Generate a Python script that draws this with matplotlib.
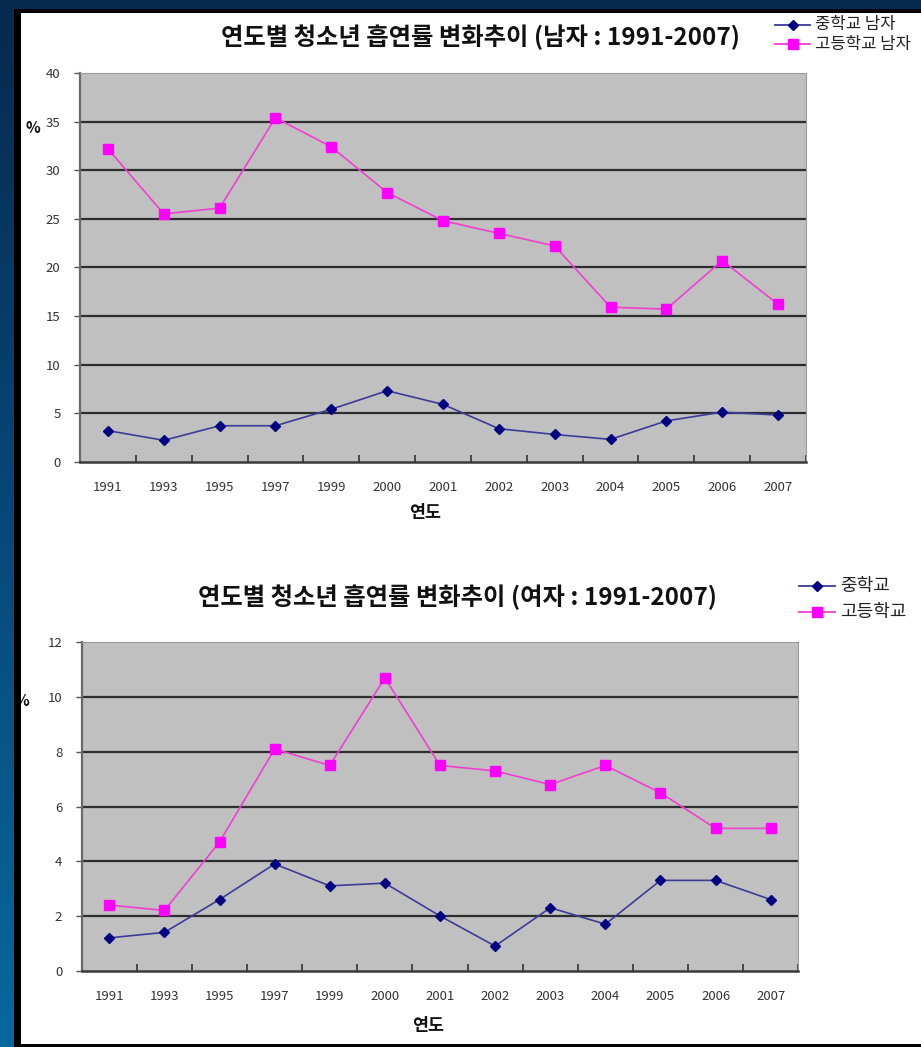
import numpy as np
import matplotlib
matplotlib.use("Agg")
import matplotlib.pyplot as plt
from matplotlib.lines import Line2D
from matplotlib.patches import Rectangle

plt.rcParams['font.family'] = ['Noto Sans CJK KR', 'DejaVu Sans']

# ---- data -------------------------------------------------------------
years = ['1991', '1993', '1995', '1997', '1999', '2000', '2001',
         '2002', '2003', '2004', '2005', '2006', '2007']

male_middle = [3.2, 2.2, 3.7, 3.7, 5.4, 7.3, 5.9, 3.4, 2.8, 2.3, 4.2, 5.1, 4.8]
male_high = [32.2, 25.5, 26.1, 35.4, 32.4, 27.7, 24.8, 23.5, 22.2, 15.9, 15.7, 20.7, 16.2]

female_middle = [1.2, 1.4, 2.6, 3.9, 3.1, 3.2, 2.0, 0.9, 2.3, 1.7, 3.3, 3.3, 2.6]
female_high = [2.4, 2.2, 4.7, 8.1, 7.5, 10.7, 7.5, 7.3, 6.8, 7.5, 6.5, 5.2, 5.2]

male_ticks = [0, 5, 10, 15, 20, 25, 30, 35, 40]
female_ticks = [0, 2, 4, 6, 8, 10, 12]

male_title = '연도별 청소년 흡연률 변화추이 (남자 : 1991-2007)'
female_title = '연도별 청소년 흡연률 변화추이 (여자 : 1991-2007)'
male_labels = ['중학교 남자', '고등학교 남자']
female_labels = ['중학교', '고등학교']

# ---- figure -------------------------------------------------------------
W, H = 921, 1047
fig = plt.figure(figsize=(W / 100, H / 100), dpi=100, facecolor='white')


def fx(px):
    return px / W


def fy(py):
    return 1 - py / H


NAVY = '#000080'
MAGENTA = '#ff00ff'
BLUE_LINE = '#3c3c96'
PINK_LINE = '#f040d0'


def draw_chart(rect, mid, high, ticks, ymax):
    ax = fig.add_axes(rect)
    ax.set_facecolor('#c0c0c0')
    x = np.arange(len(years))
    ax.plot(x, mid, color=BLUE_LINE, lw=1.2, marker='D', ms=5.5,
            mfc=NAVY, mec=NAVY, zorder=3)
    ax.plot(x, high, color=PINK_LINE, lw=1.2, marker='s', ms=6.5,
            mfc=MAGENTA, mec=MAGENTA, zorder=3)
    ax.set_xlim(-0.5, len(years) - 0.5)
    ax.set_ylim(0, ymax)
    ax.set_yticks(ticks)
    ax.set_yticklabels([str(t) for t in ticks])
    for t in ticks[1:-1]:
        ax.axhline(t, color='#2e2e2e', lw=1.6, zorder=1)
    ax.set_xticks(x)
    ax.set_xticklabels(years)
    ax.set_xticks(np.arange(len(years) + 1) - 0.5, minor=True)
    ax.tick_params(axis='x', which='major', length=0, pad=14,
                   labelsize=9.5, labelcolor='#333333')
    ax.tick_params(axis='x', which='minor', direction='in', length=5,
                   width=1.2, color='#333333')
    ax.tick_params(axis='y', which='major', direction='out', length=4,
                   width=1.0, color='#555555', pad=10,
                   labelsize=9.5, labelcolor='#333333')
    ax.spines['left'].set_color('#6a6a6a')
    ax.spines['left'].set_linewidth(1.6)
    ax.spines['bottom'].set_color('#3a3a3a')
    ax.spines['bottom'].set_linewidth(1.8)
    ax.spines['top'].set_color('#9a9a9a')
    ax.spines['right'].set_color('#9a9a9a')
    return ax


def draw_legend(x0, x1, xt, rows, labels, size):
    for (y, lab, lc, mc, mk, ms) in zip(rows, labels,
                                        [BLUE_LINE, PINK_LINE],
                                        [NAVY, MAGENTA],
                                        ['D', 's'], [5, 6.5]):
        fig.add_artist(Line2D([fx(x0), fx(x1)], [fy(y), fy(y)],
                              transform=fig.transFigure, color=lc, lw=1.3))
        fig.add_artist(Line2D([fx((x0 + x1) / 2)], [fy(y)],
                              transform=fig.transFigure, marker=mk, ms=ms,
                              mfc=mc, mec=mc, lw=0))
        fig.text(fx(xt), fy(y), lab, fontsize=size, color='#222222',
                 ha='left', va='center')


# top chart (male)
ax1 = draw_chart([fx(80), fy(461.7), fx(806) - fx(80), fy(73) - fy(461.7)],
                 male_middle, male_high, male_ticks, 40)
fig.text(fx(480), fy(37), male_title, fontsize=17.5, fontweight='bold',
         ha='center', va='center', color='#111111')
fig.text(fx(425), fy(513), '연도', fontsize=12.5, fontweight='bold',
         ha='center', va='center', color='#111111')
fig.text(fx(33), fy(128), '%', fontsize=11, fontweight='bold',
         ha='center', va='center', color='#111111')
draw_legend(775, 810, 815, [25, 44], male_labels, 12)

# bottom chart (female)
ax2 = draw_chart([fx(81.7), fy(970.7), fx(798.3) - fx(81.7), fy(642.3) - fy(970.7)],
                 female_middle, female_high, female_ticks, 12)
fig.text(fx(457), fy(597), female_title, fontsize=17.5, fontweight='bold',
         ha='center', va='center', color='#111111')
fig.text(fx(428), fy(1026), '연도', fontsize=12.5, fontweight='bold',
         ha='center', va='center', color='#111111')
fig.text(fx(22), fy(701), '%', fontsize=11, fontweight='bold',
         ha='center', va='center', color='#111111')
draw_legend(799, 835, 840, [586, 612], female_labels, 13)

# ---- frame around the slide --------------------------------------------
frame = dict(transform=fig.transFigure, zorder=20, lw=0)
fig.add_artist(Rectangle((0, fy(9)), 1, fy(0) - fy(9), fc='#062a50', **frame))
fig.add_artist(Rectangle((0, fy(12.5)), 1, fy(9) - fy(12.5), fc='black', **frame))
fig.add_artist(Rectangle((fx(13), 0), fx(20.5) - fx(13), fy(9), fc='black', **frame))
fig.add_artist(Rectangle((0, 0), 1, fy(1043.5), fc='black', **frame))

grad_ax = fig.add_axes([0, 0, fx(13), fy(9)], zorder=30)
grad = np.linspace(0, 1, 256).reshape(-1, 1)
top_c = np.array([6, 42, 80]) / 255
bot_c = np.array([6, 104, 160]) / 255
img = top_c[None, None, :] * (1 - grad[:, :, None]) + bot_c[None, None, :] * grad[:, :, None]
grad_ax.imshow(img, aspect='auto', extent=[0, 1, 0, 1], origin='upper')
grad_ax.set_axis_off()

fig.savefig('out.png', dpi=100, facecolor='white')
